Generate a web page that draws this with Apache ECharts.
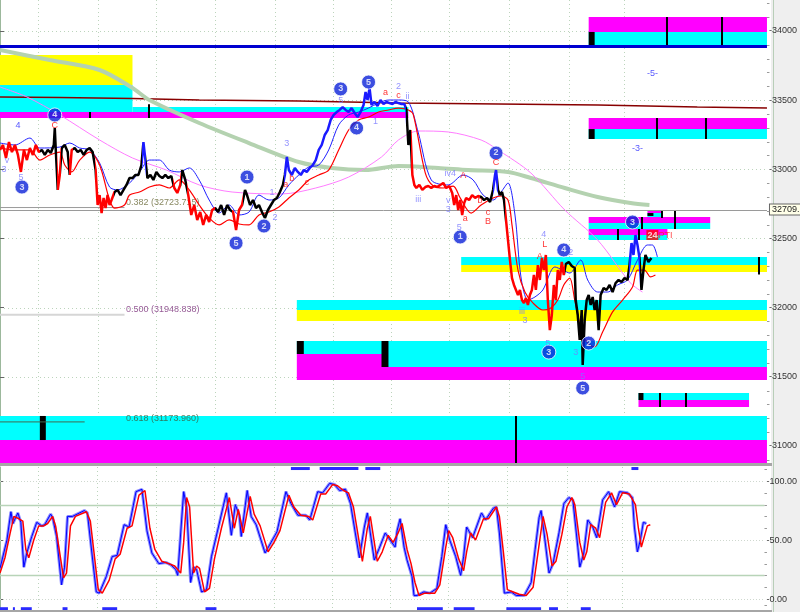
<!DOCTYPE html>
<html><head><meta charset="utf-8">
<script src="https://cdn.jsdelivr.net/npm/echarts@6/dist/echarts.min.js"></script>
<style>html,body{margin:0;padding:0;background:#fff}#c{width:800px;height:612px}</style>
</head><body><div id="c"></div>
<script>
// ---------- DATA ----------
const priceTicks = [31000, 31500, 32000, 32500, 33000, 33500, 34000];
const priceMinorTicks = [30900, 31100, 31200, 31300, 31400, 31600, 31700, 31800, 31900, 32100, 32200, 32300, 32400, 32600, 32700, 32800, 32900, 33100, 33200, 33300, 33400, 33600, 33700, 33800, 33900, 34100, 34200];
const priceGridLevels = [31500, 32000, 32500, 33000, 33500, 34000];
const timeGridLines = [38, 98, 157, 216, 276, 334, 393, 451, 511, 571, 626];
const stochTicks = [0, 50, 100];
const stochMinorTicks = [-5, 10, 20, 30, 40, 60, 70, 80, 90, 110];
const lastPrice = 32709;
const resistanceLevel = 33891;

// price path [time, price]
const priceBars = [[0,33140],[3,33176],[6,33082],[9,33197],[12,33125],[15,33176],[18,33104],[21,32981],[24,33140],[27,33067],[30,33154],[33,33104],[36,33176],[39,33125],[42,33140],[45,33104],[48,33140],[51,33118],[54,33176],[55,33299],[56,33140],[58,32851],[60,32959],[62,33154],[65,33176],[68,33125],[70,32959],[72,33140],[75,33154],[78,33125],[81,33140],[84,33104],[87,33140],[90,33154],[93,33125],[96,32995],[98,32742],[100,32814],[102,32684],[104,32793],[106,32720],[108,32814],[110,32742],[112,32778],[115,32836],[118,32851],[121,32814],[124,32851],[127,32887],[130,32937],[133,32937],[136,32959],[139,32959],[142,33031],[144,33197],[146,33067],[148,32937],[151,32959],[154,32923],[157,32981],[160,32952],[163,32937],[166,32959],[169,32937],[172,32952],[175,32865],[178,32829],[181,32887],[183,32995],[186,32923],[189,32814],[192,32670],[195,32742],[198,32634],[201,32691],[204,32598],[207,32670],[210,32619],[213,32706],[216,32720],[219,32691],[222,32742],[225,32670],[228,32742],[231,32706],[234,32691],[237,32561],[240,32706],[243,32742],[246,32851],[248,32814],[251,32742],[254,32778],[257,32720],[260,32742],[263,32691],[266,32648],[269,32706],[272,32742],[275,32778],[278,32793],[281,32836],[284,32887],[286,32959],[288,33089],[290,32995],[293,32959],[296,33010],[299,32981],[302,32959],[305,32995],[308,32981],[311,33010],[314,33031],[317,33067],[320,33140],[323,33176],[326,33248],[329,33284],[332,33357],[335,33393],[338,33414],[341,33429],[344,33450],[347,33429],[350,33414],[353,33443],[356,33407],[359,33378],[362,33414],[365,33465],[367,33559],[369,33501],[371,33588],[373,33465],[376,33487],[379,33458],[382,33501],[385,33472],[388,33487],[391,33479],[394,33472],[397,33487],[400,33479],[403,33472],[406,33472],[408,33429],[410,33176],[412,33284],[414,32959],[416,32887],[418,32865],[421,32887],[424,32851],[427,32872],[430,32879],[433,32865],[436,32879],[439,32872],[442,32887],[445,32901],[448,32865],[451,32879],[454,32829],[456,32742],[458,32814],[460,32706],[462,32778],[464,32670],[466,32757],[468,32793],[471,32778],[474,32814],[477,32793],[480,32807],[483,32800],[486,32778],[489,32793],[492,32764],[495,32851],[497,32959],[498,32995],[500,32851],[502,32814],[504,32836],[506,32778],[508,32634],[510,32489],[512,32344],[514,32214],[516,32164],[518,32178],[520,32092],[522,32128],[524,32055],[526,32034],[528,32070],[530,32019],[532,32092],[534,32128],[536,32236],[538,32128],[540,32308],[542,32200],[544,32359],[546,32272],[548,32381],[550,32055],[552,31838],[554,31947],[556,32164],[558,32055],[560,32272],[562,32200],[564,32330],[566,32236],[568,32316],[571,32330],[574,32301],[577,32287],[578,32055],[580,31947],[582,31766],[584,31983],[585,31585],[587,31911],[589,32055],[591,32092],[593,32019],[595,32077],[597,31983],[599,32055],[601,31838],[603,32092],[606,32142],[609,32128],[612,32164],[615,32113],[618,32178],[621,32200],[624,32185],[627,32214],[630,32200],[632,32308],[634,32467],[636,32381],[638,32525],[640,32453],[642,32359],[644,32128],[646,32272],[648,32381],[651,32330],[654,32359]];

// trend colouring of the price path [start, end, trend]
const trendSegments = [[0,40,'dn'],[40,57,'nt'],[57,61,'dn'],[61,69,'nt'],[69,73,'dn'],[73,95,'nt'],[95,114,'dn'],[114,143,'nt'],[143,147,'up'],[147,174,'nt'],[174,182,'dn'],[182,188,'nt'],[188,216,'dn'],[216,233,'nt'],[233,244,'dn'],[244,285,'nt'],[285,408,'up'],[408,413,'nt'],[413,482,'dn'],[482,495,'nt'],[495,500,'up'],[500,507,'nt'],[507,567,'dn'],[567,631,'nt'],[631,643,'up'],[643,670,'nt']];

const fastMa = [[0,33190],[15,33176],[30,33226],[40,33154],[60,33161],[70,33190],[80,33154],[90,33140],[100,33046],[110,32872],[118,32851],[130,32901],[140,32981],[150,33067],[160,33067],[170,32995],[180,32981],[190,33010],[200,32923],[210,32778],[220,32684],[230,32742],[240,32670],[250,32691],[260,32814],[270,32778],[280,32793],[290,32887],[300,32959],[310,33017],[320,33031],[330,33140],[340,33320],[350,33393],[360,33414],[370,33443],[380,33479],[390,33501],[400,33501],[410,33487],[420,33263],[433,32923],[450,32887],[465,32959],[475,32923],[485,32814],[495,32778],[503,32836],[510,32901],[517,32670],[523,32222],[530,32055],[537,32077],[545,32128],[557,32294],[565,32272],[572,32250],[583,32344],[590,32200],[600,32113],[610,32113],[620,32164],[630,32200],[640,32344],[650,32453],[655,32453],[660,32366]];
const midMa = [[0,33154],[15,33140],[30,33140],[40,33067],[50,33104],[60,33125],[65,33031],[72,32981],[80,33067],[90,33125],[100,33031],[110,32778],[115,32720],[125,32742],[130,32814],[140,32836],[150,32872],[160,32887],[170,32865],[180,32923],[190,32851],[200,32742],[210,32648],[220,32598],[230,32634],[240,32605],[250,32598],[260,32670],[270,32691],[280,32728],[290,32793],[300,32851],[310,32923],[320,32959],[330,32995],[340,33140],[350,33284],[360,33357],[370,33378],[380,33414],[390,33429],[400,33443],[410,33429],[415,33393],[427,32973],[435,32879],[445,32865],[455,32879],[462,32793],[473,32684],[483,32742],[495,32793],[503,32807],[510,32778],[514,32598],[520,32272],[527,32113],[535,32034],[545,31983],[553,31998],[560,32055],[566,32164],[572,32214],[577,32055],[585,31802],[592,31730],[597,31716],[605,31824],[615,31969],[625,32055],[635,32149],[640,32272],[647,32272],[653,32222],[658,32236]];
const pinkMa = [[0,33595],[27,33523],[60,33393],[100,33212],[133,33082],[167,32995],[200,32887],[233,32836],[283,32822],[317,32865],[350,32944],[383,33089],[400,33212],[420,33277],[450,33270],[483,33212],[500,33140],[533,32973],[567,32706],[600,32489],[633,32178],[645,32113]];
const longMa = [[0,33863],[50,33790],[100,33718],[133,33588],[150,33501],[200,33335],[250,33190],[300,33053],[333,33010],[367,32995],[400,33024],[440,33010],[470,32995],[510,32981],[533,32937],[567,32865],[600,32800],[633,32756],[652,32742]];
const slowMa = [[0,33523],[60,33519],[133,33512],[200,33501],[300,33494],[400,33479],[500,33472],[600,33465],[700,33450],[770,33443]];

// zones [t0, t1, top, bottom, kind]
const zones = [
  [0,133,33826,33610,'yellow'],[0,133,33610,33414,'cyan'],[133,410,33450,33414,'cyan'],[0,410,33414,33371,'magenta'],
  [591,770,34101,33993,'magenta'],[591,770,33993,33891,'cyan'],
  [591,770,33371,33291,'magenta'],[591,770,33291,33219,'cyan'],
  [650,665,32699,32684,'magenta'],[650,665,32684,32648,'cyan'],
  [591,713,32655,32612,'magenta'],[591,713,32612,32569,'cyan'],
  [591,670,32569,32525,'magenta'],[591,670,32525,32489,'cyan'],
  [463,770,32366,32308,'cyan'],[463,770,32308,32258,'yellow'],
  [298,770,32055,31983,'cyan'],[298,770,31983,31904,'yellow'],
  [298,770,31759,31665,'cyan'],[298,385,31665,31571,'magenta'],[385,770,31665,31571,'cyan'],[298,770,31571,31477,'magenta'],
  [641,752,31383,31332,'cyan'],[641,752,31332,31282,'magenta'],
  [0,770,31217,31043,'cyan'],[0,770,31043,30877,'magenta']
];
const zoneMarkers = [[591,597,33993,33891],[591,597,33291,33219],[650,656,32684,32663],[298,305,31759,31665],[383,390,31759,31571],[641,646,31383,31332],[40,46,31217,31043]];
const zoneTicks = [[670,34101,33891],[725,34101,33891],[660,33371,33219],[709,33371,33219],[665,32699,32648],[645,32655,32569],[678,32699,32569],[620,32569,32489],[642,32569,32489],[762,32366,32240],[663,31383,31282],[689,31383,31282],[518,31217,30877],[90,33414,33371],[150,33470,33371]];

// fibonacci retracements [ratio, level, lineEnd]
const fibLevels = [[0.382,32723.715,125],[0.5,31948.838,125],[0.618,31173.960,85]];
const fibTexts = [[126,32757,'0.382 (32723.715)','olive'],[126,31990,'0.500 (31948.838)','purple'],[126,31202,'0.618 (31173.960)','green']];

// Elliott wave counts
const waveCircles = [[22,32872,'3'],[55,33393,'4'],[237,32467,'5'],[248,32944,'1'],[265,32590,'2'],[342,33581,'3'],[358,33299,'4'],[370,33631,'5'],[462,32511,'1'],[498,33118,'2'],[551,31679,'3'],[566,32417,'4'],[585,31419,'5'],[591,31744,'2'],[635,32619,'3']];
const waveLabels = [[18,33320,'4','blue'],[7,33067,'v','lav'],[4,32995,'3','lav'],[21,32944,'5','lav'],[55,33320,'C','red'],[288,33190,'3','lav'],[273,32829,'1','lav'],[276,32648,'2','lav'],[293,32937,'b','red'],[287,32890,'a','red'],[308,32908,'c','red'],[342,33494,'5','lav'],[377,33349,'1','lav'],[387,33552,'a','red'],[400,33537,'c','red'],[400,33602,'2','lav'],[409,33523,'ii','lav'],[420,32785,'iii','lav'],[452,32973,'iv4','lav'],[465,32952,'A','red'],[450,32778,'v','lav'],[450,32713,'3','lav'],[461,32576,'5','lav'],[467,32641,'a','red'],[482,32778,'b','red'],[490,32691,'c','red'],[490,32626,'B','red'],[498,33046,'C','red'],[546,32532,'4','lav'],[547,32460,'L','red'],[542,32373,'A','red'],[573,32395,'2','lav'],[524,31969,'iii','lav'],[527,31904,'3','lav'],[550,31744,'5','lav'],[578,31679,'3','lav'],[585,31499,'5','lav'],[655,33689,'-5-','blue'],[640,33147,'-3-','blue']];
const timeCycleLabel = [[662,32525,'24','PTI']];

// stochastic %K / %D [time, value]
const stochK = [[0,26],[7,50],[11,74],[13,64],[18,73],[21,65],[24,27],[27,39],[32,53],[37,65],[42,62],[45,63],[51,72],[53,69],[57,53],[62,12],[65,27],[68,70],[73,70],[85,75],[88,73],[97,6],[100,5],[107,19],[113,36],[118,37],[125,63],[130,61],[137,91],[143,93],[148,58],[153,39],[160,30],[167,31],[172,29],[177,25],[179,20],[182,56],[185,91],[188,78],[192,14],[195,27],[198,25],[203,6],[208,8],[213,36],[220,61],[228,90],[233,54],[237,80],[241,71],[243,53],[249,92],[253,70],[258,63],[267,39],[273,48],[279,57],[288,91],[293,81],[300,71],[308,71],[312,67],[320,91],[325,90],[332,98],[337,97],[342,92],[348,93],[353,81],[362,35],[367,61],[370,73],[377,33],[382,43],[388,56],[393,50],[398,44],[400,58],[403,68],[407,44],[410,33],[415,19],[417,3],[420,3],[427,6],[433,5],[440,9],[445,36],[449,63],[453,50],[459,36],[464,20],[467,36],[470,61],[476,52],[485,73],[489,67],[497,77],[500,78],[503,56],[508,5],[515,6],[520,3],[528,3],[535,14],[539,42],[543,69],[545,75],[548,56],[553,22],[557,30],[563,56],[568,81],[573,86],[577,84],[582,44],[584,27],[588,39],[592,67],[597,61],[601,52],[607,84],[613,91],[619,78],[624,91],[632,90],[637,86],[639,61],[642,40],[645,50],[648,65],[651,64]];
const stochD = [[0,22],[5,35],[10,55],[14,70],[19,68],[23,66],[26,42],[29,35],[34,50],[39,62],[44,62],[48,64],[53,70],[56,62],[60,40],[64,18],[67,22],[71,62],[76,70],[87,74],[91,66],[99,8],[103,5],[110,16],[116,34],[121,38],[128,60],[133,62],[140,88],[146,92],[151,60],[156,42],[163,32],[170,30],[176,28],[182,22],[185,48],[188,86],[191,78],[195,22],[198,28],[201,26],[206,6],[211,9],[216,34],[223,60],[231,86],[236,60],[240,76],[245,56],[252,87],[256,72],[262,62],[270,40],[276,48],[282,58],[291,88],[296,78],[303,71],[311,70],[315,67],[323,89],[328,89],[335,97],[340,96],[346,92],[351,90],[356,78],[365,32],[370,60],[373,70],[380,32],[385,40],[391,54],[396,48],[401,56],[405,64],[410,42],[414,30],[418,14],[422,3],[428,5],[433,5],[438,5],[443,12],[449,44],[452,58],[456,52],[462,34],[467,24],[470,40],[474,56],[479,50],[487,68],[492,68],[500,78],[503,70],[507,40],[511,8],[517,6],[523,4],[530,3],[537,10],[542,40],[547,70],[551,55],[556,28],[560,32],[566,55],[571,78],[576,86],[579,80],[584,48],[588,33],[591,40],[595,63],[600,60],[604,52],[610,82],[616,90],[621,80],[627,90],[634,89],[640,80],[643,60],[646,44],[649,53],[652,62],[655,63]];
const stochBandLevels = [20, 80];
const stochDotLevels = [0, 50, 100];
const signalBarsLow = [[0,8],[13,15],[21,32],[63,68],[103,118],[207,218],[420,446],[457,478],[510,545],[553,562],[585,595]];
const signalBarsHigh = [[293,312],[322,361],[368,383],[636,643]];

// ---------- STYLE ----------
const FONT = 'Liberation Sans';
const zoneColors = {cyan:'#00ffff', magenta:'#ff00ff', yellow:'#ffff00'};
const trendColors = {up:'#1a1aff', dn:'#ff0000', nt:'#000000'};
const labelColors = {lav:'#7878ff', red:'#ff0000', blue:'#2a2aff'};
const fibColors = {olive:'#6a6a3a', purple:'#7a307a', green:'#3a5a3a'};

const chart = echarts.init(document.getElementById('c'), null, {renderer:'canvas'});

function rectOf(api, x0, x1, top, bottom){
  const a = api.coord([x0, top]), b = api.coord([x1, bottom]);
  return {x:a[0], y:a[1], width:b[0]-a[0], height:b[1]-a[1]};
}
function hLineSeries(name, gridIdx, items, lineStyle, z, clip){
  return {type:'custom', name, xAxisIndex:gridIdx, yAxisIndex:gridIdx, z, silent:true, clip:clip !== false,
    data: items, encode:{x:[0,1], y:2},
    renderItem:(p, api)=>{
      const a = api.coord([api.value(0), api.value(2)]), b = api.coord([api.value(1), api.value(2)]);
      const y = Math.round(a[1]) + 0.5;
      return {type:'line', shape:{x1:a[0], y1:y, x2:b[0], y2:y}, style:Object.assign({fill:null}, lineStyle)};
    }};
}
function vLineSeries(name, gridIdx, items, lineStyle, z){
  return {type:'custom', name, xAxisIndex:gridIdx, yAxisIndex:gridIdx, z, silent:true, clip:true,
    data: items.map(t=>[t]), encode:{x:0},
    renderItem:(p, api)=>{
      const cs = p.coordSys; const x = Math.round(api.coord([api.value(0), 0])[0]) + 0.5;
      return {type:'line', shape:{x1:x, y1:cs.y, x2:x, y2:cs.y+cs.height}, style:Object.assign({fill:null}, lineStyle)};
    }};
}
const gridDot = {stroke:'#bcd4bc', lineWidth:1, lineDash:[1,3]};
const hidden = {color:'rgba(0,0,0,0)'};

const option = {
  animation:false,
  backgroundColor:'#ffffff',
  textStyle:{fontFamily:FONT},
  grid:[{left:0, top:0, width:770, height:463},{left:0, top:467, width:770, height:143}],
  xAxis:[
    {type:'value', gridIndex:0, min:0, max:770, show:false},
    {type:'value', gridIndex:1, min:0, max:770, show:false}
  ],
  yAxis:[
    {type:'value', gridIndex:0, position:'right', min:30877, max:34224, splitLine:{show:false},
     axisLine:{show:true, lineStyle:{color:'#9cb89c'}},
     axisTick:{show:true, length:4, customValues:priceTicks, lineStyle:{color:'#666'}},
     axisLabel:{customValues:priceTicks, fontSize:9, color:'#333', margin:2, fontFamily:FONT, formatter:v=>'-'+String(v)}},
    {type:'value', gridIndex:1, position:'right', min:-9.3, max:111.9, splitLine:{show:false},
     axisLine:{show:true, lineStyle:{color:'#9cb89c'}},
     axisTick:{show:true, length:4, customValues:stochTicks, lineStyle:{color:'#666'}},
     axisLabel:{customValues:stochTicks, fontSize:9, color:'#333', margin:2, fontFamily:FONT, formatter:v=>'-'+Number(v).toFixed(2)}}
  ],
  graphic:[
    {type:'rect', z:-100, shape:{x:771, y:0, width:29, height:612}, style:{fill:'#efefef'}},
    {type:'line', z:-50, shape:{x1:773.5, y1:0, x2:773.5, y2:612}, style:{stroke:'#b8ceb8', lineWidth:1}},
    {type:'rect', z:100, shape:{x:0, y:463, width:772, height:3}, style:{fill:'#a6a6a6'}},
    {type:'rect', z:100, shape:{x:0, y:610, width:772, height:2}, style:{fill:'#a6a6a6'}}
  ],
  visualMap:[{type:'piecewise', show:false, dimension:0, seriesIndex:12,
    pieces: trendSegments.map(s=>({gte:s[0], lt:s[1], color:trendColors[s[2]]})),
    outOfRange:{color:'#000'}}],
  series:[
    hLineSeries('hgrid', 0, priceGridLevels.map(v=>[0,770,v]), gridDot, 0),
    vLineSeries('vgrid', 0, timeGridLines, gridDot, 0),
    {type:'custom', name:'zones', xAxisIndex:0, yAxisIndex:0, z:1, silent:true, clip:true,
     data: zones.map(z=>[z[0],z[1],z[2],z[3]]), encode:{x:[0,1], y:[2,3]},
     renderItem:(p, api)=>({type:'rect', shape:rectOf(api, api.value(0), api.value(1), api.value(2), api.value(3)),
        style:{fill:zoneColors[zones[p.dataIndex][4]]}})},
    {type:'custom', name:'markers', xAxisIndex:0, yAxisIndex:0, z:2, silent:true, clip:true,
     data: zoneMarkers, encode:{x:[0,1], y:[2,3]},
     renderItem:(p, api)=>({type:'rect', shape:rectOf(api, api.value(0), api.value(1), api.value(2), api.value(3)), style:{fill:'#000'}})},
    {type:'custom', name:'ticks', xAxisIndex:0, yAxisIndex:0, z:2, silent:true, clip:true,
     data: zoneTicks, encode:{x:0, y:[1,2]},
     renderItem:(p, api)=>{const a=api.coord([api.value(0),api.value(1)]), b=api.coord([api.value(0),api.value(2)]);
       const x=Math.round(a[0]);
       return {type:'line', shape:{x1:x, y1:a[1], x2:x, y2:b[1]}, style:{stroke:'#000', lineWidth:2}};}},
    {type:'custom', name:'fib', xAxisIndex:0, yAxisIndex:0, z:3, silent:true, clip:true,
     data: fibLevels.map(f=>[0,f[2],f[1]]), encode:{x:[0,1], y:2},
     renderItem:(p, api)=>{const a=api.coord([api.value(0),api.value(2)]), b=api.coord([api.value(1),api.value(2)]);
       const st=[{stroke:'#9a9a9a',lineWidth:1},{stroke:'#d6d6d6',lineWidth:2},{stroke:'#406a50',lineWidth:1}][p.dataIndex];
       return {type:'line', shape:{x1:a[0], y1:a[1], x2:b[0], y2:b[1]}, style:st};}},
    hLineSeries('levels', 0, [[0,770,lastPrice]], {stroke:'#9a9a9a', lineWidth:1}, 3),
    hLineSeries('resist', 0, [[0,770,resistanceLevel]], {stroke:'#0000d0', lineWidth:3}, 3),
    {type:'line', name:'slowMa', xAxisIndex:0, yAxisIndex:0, z:4, data:slowMa, symbol:'none', silent:true,
     lineStyle:{color:'#880000', width:1.5},
     markLine:{symbol:'none', silent:true, data:[{yAxis:lastPrice}], lineStyle:{color:'rgba(0,0,0,0)', width:0.1},
       label:{show:true, position:'end', distance:3, formatter:'32709.', fontSize:9, color:'#222', fontFamily:FONT,
         backgroundColor:'#ffffe8', borderColor:'#666', borderWidth:1, padding:[1,3,0,2]}}},
    {type:'line', name:'longMa', xAxisIndex:0, yAxisIndex:0, z:4, data:longMa, symbol:'none', smooth:0.3, silent:true,
     lineStyle:{color:'#b4d2b0', width:4}},
    {type:'line', name:'pinkMa', xAxisIndex:0, yAxisIndex:0, z:4, data:pinkMa, symbol:'none', smooth:0.3, silent:true,
     lineStyle:{color:'#ff7cff', width:1}},
    {type:'line', name:'fastMa', xAxisIndex:0, yAxisIndex:0, z:5, data:fastMa, symbol:'none', smooth:0.3, silent:true,
     lineStyle:{color:'#2020ff', width:1}},
    {type:'line', name:'price', xAxisIndex:0, yAxisIndex:0, z:6, data:priceBars, symbol:'none', silent:true,
     lineStyle:{width:2.5}},
    {type:'line', name:'midMa', xAxisIndex:0, yAxisIndex:0, z:5, data:midMa, symbol:'none', smooth:0.3, silent:true,
     lineStyle:{color:'#ff0000', width:1.2}},
    {type:'scatter', name:'waves', xAxisIndex:0, yAxisIndex:0, z:8, silent:true,
     data: waveCircles.map(w=>[w[0],w[1],w[2]]), symbolSize:14,
     itemStyle:{color:'#0b22d8', borderColor:'#ffffff', borderWidth:1},
     label:{show:true, position:'inside', formatter:p=>String(p.data[2]), color:'#fff', fontSize:9, fontWeight:'bold', fontFamily:FONT}},
    {type:'scatter', name:'waveLabels', xAxisIndex:0, yAxisIndex:0, z:8, silent:true, symbolSize:1,
     itemStyle:hidden,
     data: waveLabels.map(w=>({value:[w[0],w[1]], label:{show:true, position:'inside', formatter:w[2], color:labelColors[w[3]], fontSize:9, fontFamily:FONT}}))},
    {type:'scatter', name:'fibTexts', xAxisIndex:0, yAxisIndex:0, z:3, silent:true, symbolSize:1, itemStyle:hidden,
     data: fibTexts.map(f=>({value:[f[0],f[1]], label:{show:true, position:'right', distance:0, formatter:f[2], color:fibColors[f[3]], fontSize:9, fontFamily:FONT}}))},
    {type:'scatter', name:'cycle', xAxisIndex:0, yAxisIndex:0, z:9, silent:true, symbolSize:1, itemStyle:hidden,
     data: timeCycleLabel.map(c=>({value:[c[0],c[1]], label:{show:true, position:'inside', formatter:'{a|'+c[2]+'}{b|'+c[3]+'}',
        rich:{a:{backgroundColor:'#ff0000', color:'#fff', fontWeight:'bold', fontSize:9, padding:[1,1,0,1]}, b:{color:'#ff2020', fontSize:9}}}}))},
    hLineSeries('stochBands', 1, stochBandLevels.map(v=>[0,770,v]), {stroke:'#b8d4b8', lineWidth:1.5}, 1),
    hLineSeries('stochDots', 1, stochDotLevels.map(v=>[0,770,v]), {stroke:'#cfd8cf', lineWidth:1, lineDash:[1,2]}, 1),
    vLineSeries('stochV', 1, timeGridLines, gridDot, 0),
    {type:'custom', name:'signals', xAxisIndex:1, yAxisIndex:1, z:3, silent:true, clip:false,
     data: signalBarsLow.map(s=>[s[0],s[1],-8.2]).concat(signalBarsHigh.map(s=>[s[0],s[1],110.6])), encode:{x:[0,1], y:2},
     renderItem:(p, api)=>{const a=api.coord([api.value(0),api.value(2)]), b=api.coord([api.value(1),api.value(2)]);
       return {type:'rect', shape:{x:a[0], y:a[1]-1.5, width:Math.max(2,b[0]-a[0]), height:3}, style:{fill:'#2a2aff'}};}},
    {type:'line', name:'kHalo', xAxisIndex:1, yAxisIndex:1, z:4, data:stochK, symbol:'none', silent:true,
     lineStyle:{color:'#8c8cff', width:3}},
    {type:'line', name:'K', xAxisIndex:1, yAxisIndex:1, z:5, data:stochK, symbol:'none', silent:true,
     lineStyle:{color:'#0000ff', width:1}},
    {type:'line', name:'D', xAxisIndex:1, yAxisIndex:1, z:6, data:stochD, symbol:'none', silent:true,
     lineStyle:{color:'#ff0000', width:1.5}},
    // minor axis ticks drawn just right of the plot edge
    hLineSeries('minorTicksMain', 0, priceMinorTicks.map(v=>[770,772.5,v]), {stroke:'#9a9a9a', lineWidth:1}, 10, false),
    hLineSeries('minorTicksStoch', 1, stochMinorTicks.map(v=>[770,772.5,v]), {stroke:'#9a9a9a', lineWidth:1}, 10, false)
  ]
};
chart.setOption(option);
</script>
</body></html>
